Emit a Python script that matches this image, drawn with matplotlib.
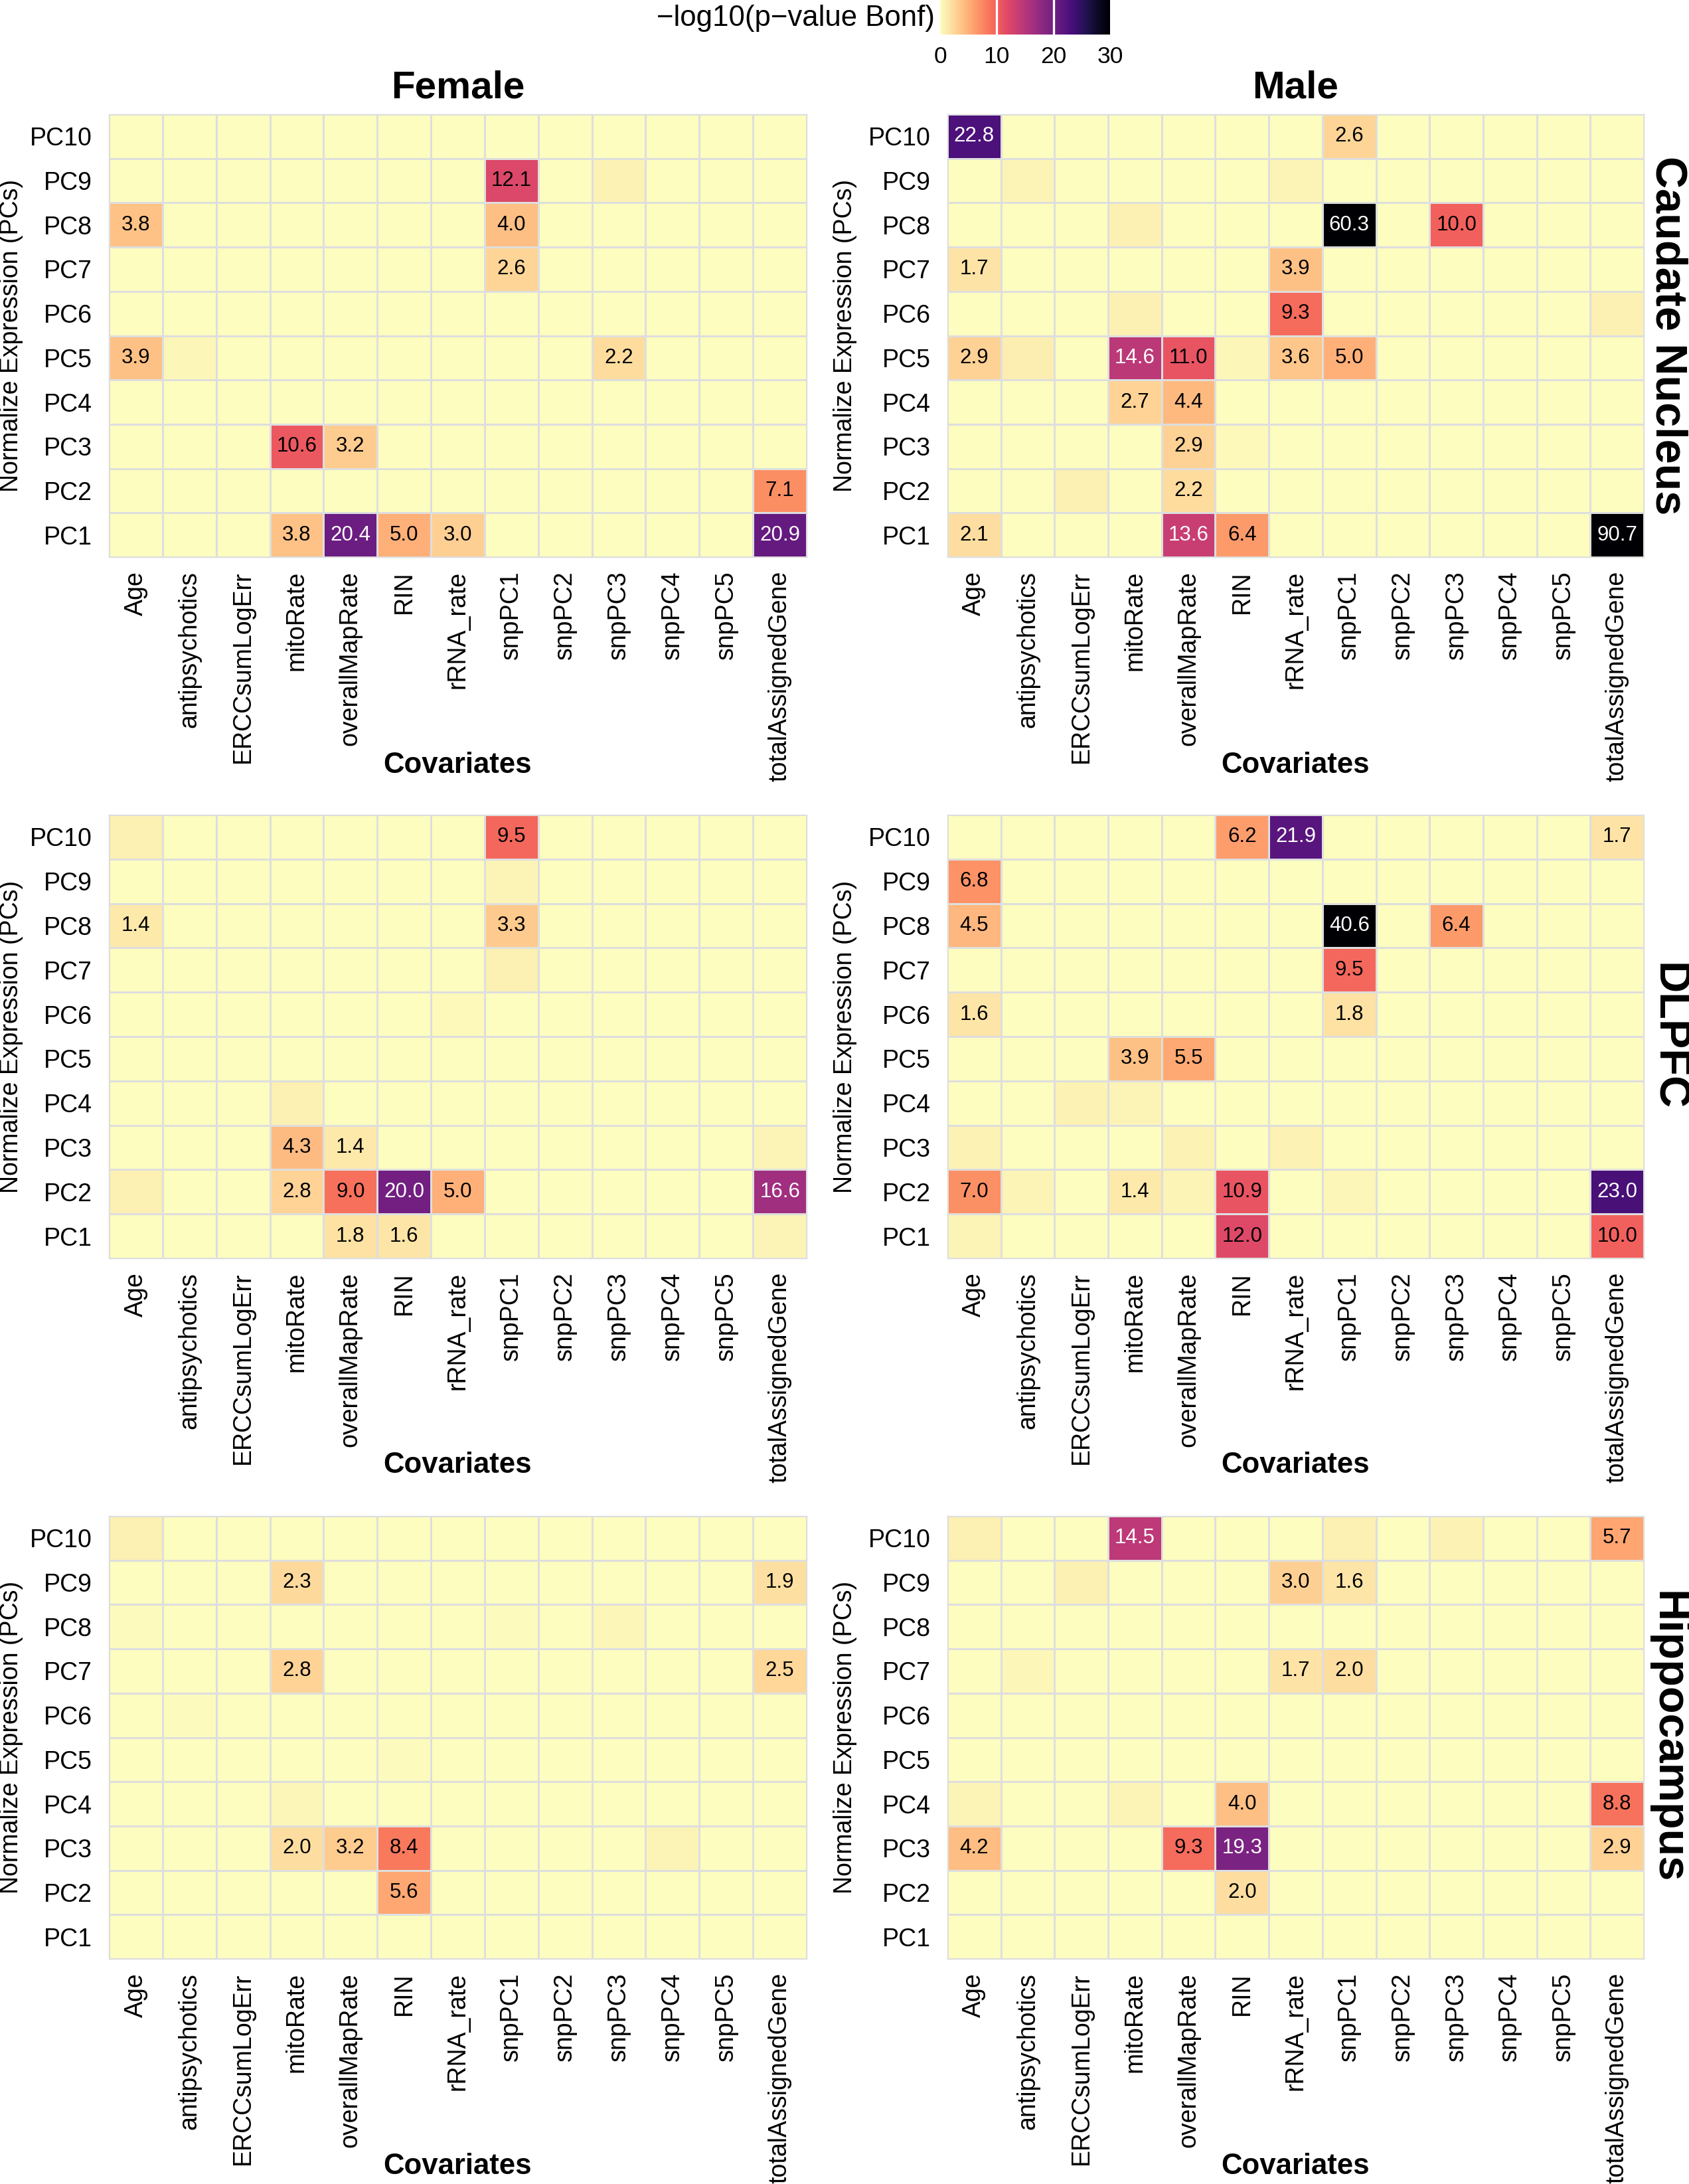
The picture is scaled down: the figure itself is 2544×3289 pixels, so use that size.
import numpy as np
import matplotlib
matplotlib.use("Agg")
import matplotlib.pyplot as plt
from matplotlib import colors, cm

plt.rcParams['font.family'] = ['Liberation Sans', 'DejaVu Sans']

covariates = ["Age", "antipsychotics", "ERCCsumLogErr", "mitoRate", "overallMapRate",
              "RIN", "rRNA_rate", "snpPC1", "snpPC2", "snpPC3", "snpPC4", "snpPC5",
              "totalAssignedGene"]
pcs = ["PC%d" % i for i in range(1, 11)]
regions = ["Caudate Nucleus", "DLPFC", "Hippocampus"]
sexes = ["Female", "Male"]

# -log10(Bonferroni p-value), rows listed from PC10 (top) down to PC1
caudate_female = [
    [0, 0, 0, 0, 0, 0, 0, 0, 0, 0, 0, 0, 0],
    [0, 0, 0, 0, 0, 0, 0, 12.1, 0, 0.8, 0, 0, 0],
    [3.8, 0, 0, 0, 0, 0, 0, 4.0, 0, 0, 0, 0, 0],
    [0, 0, 0, 0, 0, 0, 0, 2.6, 0, 0, 0, 0, 0],
    [0, 0, 0, 0, 0, 0, 0, 0, 0, 0, 0, 0, 0],
    [3.9, 0.5, 0, 0, 0, 0, 0, 0, 0, 2.2, 0, 0, 0],
    [0, 0, 0, 0, 0, 0, 0, 0, 0, 0, 0, 0, 0],
    [0, 0, 0, 10.6, 3.2, 0, 0, 0, 0, 0, 0, 0, 0],
    [0, 0, 0, 0, 0, 0, 0, 0, 0, 0, 0, 0, 7.1],
    [0, 0, 0, 3.8, 20.4, 5.0, 3.0, 0, 0, 0, 0, 0, 20.9],
]
caudate_male = [
    [22.8, 0, 0, 0, 0, 0, 0, 2.6, 0, 0, 0, 0, 0],
    [0, 0.7, 0, 0, 0, 0, 0.7, 0, 0, 0, 0, 0, 0],
    [0, 0, 0, 0.9, 0, 0, 0, 60.3, 0, 10.0, 0, 0, 0],
    [1.7, 0, 0, 0, 0, 0, 3.9, 0, 0, 0, 0, 0, 0],
    [0, 0, 0, 0.9, 0, 0, 9.3, 0, 0, 0, 0, 0, 0.9],
    [2.9, 1.0, 0, 14.6, 11.0, 0.4, 3.6, 5.0, 0, 0, 0, 0, 0],
    [0, 0, 0, 2.7, 4.4, 0, 0, 0, 0, 0, 0, 0, 0],
    [0, 0, 0, 0, 2.9, 0.3, 0, 0, 0, 0, 0, 0, 0],
    [0, 0, 0.9, 0, 2.2, 0, 0, 0, 0, 0, 0, 0, 0],
    [2.1, 0, 0, 0, 13.6, 6.4, 0, 0, 0, 0, 0, 0, 90.7],
]
dlpfc_female = [
    [0.9, 0, 0, 0, 0, 0, 0, 9.5, 0, 0, 0, 0, 0],
    [0, 0, 0, 0, 0, 0, 0, 0.6, 0, 0, 0, 0, 0],
    [1.4, 0, 0, 0, 0, 0, 0, 3.3, 0, 0, 0, 0, 0],
    [0, 0, 0, 0, 0, 0, 0, 0.9, 0, 0, 0, 0, 0],
    [0, 0, 0, 0, 0, 0, 0.3, 0, 0, 0, 0, 0, 0],
    [0, 0, 0, 0, 0, 0, 0, 0, 0, 0, 0, 0, 0],
    [0, 0, 0, 0.9, 0, 0, 0, 0, 0, 0, 0, 0, 0],
    [0, 0, 0, 4.3, 1.4, 0, 0, 0, 0, 0, 0, 0, 0.6],
    [0.9, 0, 0, 2.8, 9.0, 20.0, 5.0, 0, 0, 0, 0, 0, 16.6],
    [0, 0, 0, 0, 1.8, 1.6, 0, 0, 0, 0, 0, 0, 0.6],
]
dlpfc_male = [
    [0, 0, 0, 0, 0, 6.2, 21.9, 0, 0, 0, 0, 0, 1.7],
    [6.8, 0, 0, 0, 0, 0, 0, 0, 0, 0, 0, 0, 0],
    [4.5, 0, 0, 0, 0, 0, 0, 40.6, 0, 6.4, 0, 0, 0],
    [0, 0, 0, 0, 0, 0, 0, 9.5, 0, 0, 0, 0, 0],
    [1.6, 0, 0, 0, 0, 0, 0, 1.8, 0, 0, 0, 0, 0],
    [0, 0, 0, 3.9, 5.5, 0, 0, 0, 0, 0, 0, 0, 0],
    [0, 0, 0.8, 0.7, 0, 0, 0, 0, 0, 0, 0, 0, 0],
    [0.8, 0, 0, 0, 0.8, 0, 0.8, 0, 0, 0, 0, 0, 0],
    [7.0, 0.6, 0, 1.4, 0.6, 10.9, 0, 0.5, 0, 0, 0, 0, 23.0],
    [0.6, 0, 0, 0, 0, 12.0, 0, 0, 0, 0, 0, 0, 10.0],
]
hippo_female = [
    [0.9, 0, 0, 0, 0, 0, 0, 0, 0, 0, 0, 0, 0],
    [0, 0, 0, 2.3, 0, 0, 0, 0, 0, 0, 0, 0, 1.9],
    [0.2, 0, 0, 0, 0, 0, 0, 0.2, 0, 0.5, 0, 0, 0],
    [0, 0, 0, 2.8, 0, 0, 0, 0, 0, 0, 0, 0, 2.5],
    [0, 0.2, 0, 0, 0, 0, 0, 0, 0, 0, 0, 0, 0],
    [0, 0, 0, 0, 0, 0.2, 0, 0, 0, 0, 0, 0, 0],
    [0, 0, 0, 0.5, 0, 0, 0, 0, 0, 0, 0, 0, 0],
    [0, 0, 0, 2.0, 3.2, 8.4, 0, 0, 0, 0, 0.6, 0, 0],
    [0, 0, 0, 0, 0, 5.6, 0, 0, 0, 0, 0, 0, 0],
    [0, 0, 0, 0, 0, 0, 0, 0, 0, 0, 0, 0, 0],
]
hippo_male = [
    [0.9, 0, 0, 14.5, 0, 0, 0, 0.9, 0, 0.8, 0, 0, 5.7],
    [0, 0, 0.9, 0, 0, 0, 3.0, 1.6, 0, 0, 0, 0, 0],
    [0, 0, 0, 0, 0, 0, 0, 0, 0, 0, 0, 0, 0],
    [0, 0.4, 0, 0, 0, 0, 1.7, 2.0, 0, 0, 0, 0, 0],
    [0, 0, 0, 0, 0, 0, 0, 0, 0, 0, 0, 0, 0],
    [0, 0, 0, 0, 0, 0, 0, 0, 0, 0, 0, 0, 0],
    [0.7, 0, 0, 0.6, 0, 4.0, 0, 0, 0, 0, 0, 0, 8.8],
    [4.2, 0, 0, 0, 9.3, 19.3, 0, 0, 0, 0, 0, 0, 2.9],
    [0, 0, 0, 0, 0, 2.0, 0, 0, 0, 0, 0, 0, 0],
    [0, 0, 0, 0, 0, 0, 0, 0, 0, 0, 0, 0, 0],
]

panels = [[caudate_female, caudate_male],
          [dlpfc_female, dlpfc_male],
          [hippo_female, hippo_male]]

W, H = 2545, 3289
fig = plt.figure(figsize=(W / 300, H / 300), dpi=300)

cmap = plt.get_cmap("magma_r")
norm = colors.Normalize(vmin=0, vmax=30, clip=True)

col_x = [(164, 1215), (1427, 2476)]
row_y = [(172, 839), (1227, 1895), (2283, 2950)]
grid_col = "#dedede"

def px_rect(x0, x1, y0, y1):
    return [x0 / W, 1 - y1 / H, (x1 - x0) / W, (y1 - y0) / H]

for r, (y0, y1) in enumerate(row_y):
    for c, (x0, x1) in enumerate(col_x):
        ax = fig.add_axes(px_rect(x0, x1, y0, y1))
        vals = np.array(panels[r][c], dtype=float)[::-1]   # row 0 -> PC1
        ax.pcolormesh(np.arange(14), np.arange(11), vals, cmap=cmap, norm=norm,
                      edgecolors=grid_col, linewidth=0.35)
        for i in range(vals.shape[0]):
            for j in range(vals.shape[1]):
                v = vals[i, j]
                if v >= 1.3:
                    ax.text(j + 0.5, i + 0.5, "%.1f" % v, ha="center", va="center",
                            fontsize=7.5, color="white" if v >= 13 else "black")
        ax.set_xlim(0, 13)
        ax.set_ylim(0, 10)
        ax.set_xticks(np.arange(13) + 0.5)
        ax.set_xticklabels(covariates, rotation=90, fontsize=9)
        ax.set_yticks(np.arange(10) + 0.5)
        ax.set_yticklabels(pcs, fontsize=9)
        ax.tick_params(length=0)
        ax.tick_params(axis="y", pad=6)
        ax.tick_params(axis="x", pad=5)
        for s in ax.spines.values():
            s.set_color(grid_col)
            s.set_linewidth(0.35)

        cx = (x0 + x1) / 2
        fig.text(cx / W, 1 - 1152 / H - (y0 - 172) / H, "Covariates", ha="center",
                 va="center", fontsize=10.5, fontweight="bold")
        ylab_x = 17 if c == 0 else 1273
        fig.text(ylab_x / W, 1 - (y0 + y1) / 2 / H, "Normalize Expression (PCs)",
                 rotation=90, ha="center", va="center", fontsize=9)
        if r == 0:
            fig.text(cx / W, 1 - 132 / H, sexes[c], ha="center", va="center",
                     fontsize=14, fontweight="bold")
    fig.text(2543 / W, 1 - (y0 + y1) / 2 / H, regions[r], rotation=-90,
             ha="right", va="center", fontsize=16, fontweight="bold")

# colour bar legend at the top
cax = fig.add_axes(px_rect(1416, 1672, 0, 52))
sm = cm.ScalarMappable(norm=colors.Normalize(0, 30), cmap=cmap)
cb = fig.colorbar(sm, cax=cax, orientation="horizontal", ticks=[0, 10, 20, 30])
cb.outline.set_visible(False)
cax.tick_params(length=0, labelsize=8.5, pad=4)
for t in [10, 20]:
    cax.axvline(t, color="white", linewidth=0.8)
fig.text(1408 / W, 1 - 27 / H, "\u2212log10(p\u2212value Bonf)", ha="right",
         va="center", fontsize=10.5)

fig.savefig("out.png", dpi=300)
